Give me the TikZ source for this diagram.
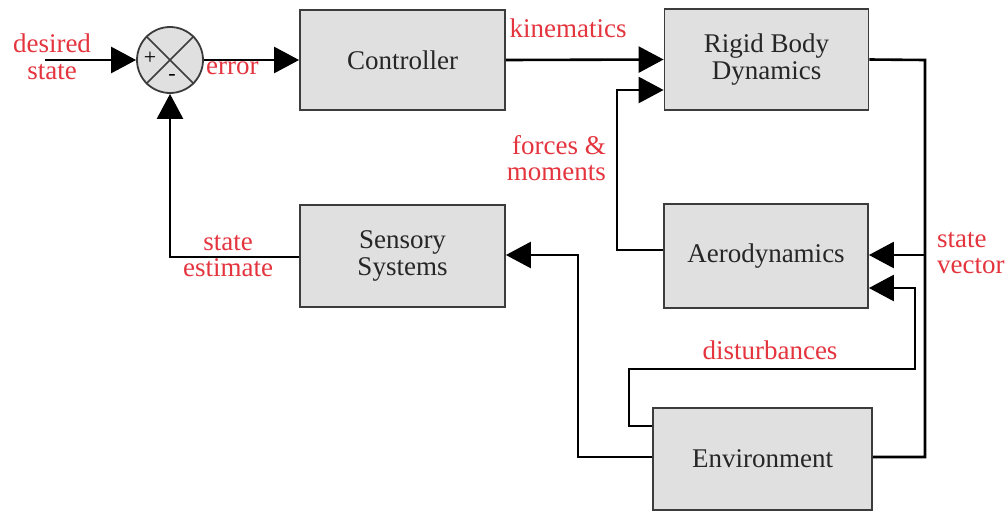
\documentclass[tikz,border=0pt]{standalone}
\usepackage{fontspec}
\setmainfont{Liberation Serif}
\usetikzlibrary{arrows.meta,calc}
\definecolor{lblred}{RGB}{228,52,62}
\definecolor{boxfill}{RGB}{224,224,224}
\definecolor{boxline}{RGB}{60,60,60}
\begin{document}
\begin{tikzpicture}[x=1pt,y=-1pt,
  blk/.style={draw=boxline,line width=1.8pt,fill=boxfill,rectangle,inner sep=0pt,
    text=black!85,font=\fontsize{27}{27}\selectfont,align=center},
  lbl/.style={text=lblred,font=\fontsize{27}{26.5}\selectfont,inner sep=0pt},
  conn/.style={line width=2.6pt,black},
  arr/.style={conn,-{Triangle[length=25pt,width=26pt]}},
]
\useasboundingbox (0,0) rectangle (1007,512);
% blocks
\node[draw=boxline,line width=1.8pt,fill=boxfill,circle,minimum size=66pt,inner sep=0pt] (sum) at (170,60) {};
\draw[line width=1.5pt,boxline] (sum.north west) -- (sum.south east);
\draw[line width=1.5pt,boxline] (sum.north east) -- (sum.south west);
\node[font=\fontsize{22}{22}\selectfont,inner sep=0pt] (plus) at (150,58) {+};
\node[font=\fontsize{22}{22}\selectfont,inner sep=0pt] (minus) at (172,77) {-};
\node[blk,minimum width=205pt,minimum height=100pt] (ctrl) at (402.5,60) {Controller};
\node[blk,minimum width=204pt,minimum height=101pt] (rbd) at (766.5,59.5) {Rigid Body\\Dynamics};
\node[blk,minimum width=204pt,minimum height=104pt] (aero) at (766,256) {Aerodynamics};
\node[blk,minimum width=205pt,minimum height=102pt] (sens) at (402.5,256) {Sensory\\Systems};
\node[blk,minimum width=219pt,minimum height=102pt] (env) at (762.5,459) {Environment};
% connectors
\coordinate (ds) at (45,60);
\draw[arr] (ds) -- (sum.west);
\draw[arr] (sum.east) -- (ctrl.west);
\draw[arr] (ctrl.east) -- (rbd.west);
\draw[arr] (aero.west |- {0,250}) -| (617,90) -- (rbd.west |- {0,90});
\draw[conn] (rbd.east) -- (925,60) |- (env.east |- {0,457});
\draw[arr] (925,255) -- (aero.east |- {0,255});
\draw[arr] (env.west |- {0,426}) -| (629,369) -| (915,288) -- (aero.east |- {0,288});
\draw[arr] (env.west |- {0,457}) -| (578,255) -- (sens.east |- {0,255});
\draw[arr] (sens.west |- {0,257}) -| (sum.south);
% labels
\node[lbl,align=center] (l1) at (52,57) {desired\\state};
\node[lbl,anchor=west] (l2) at (206,68) {error};
\node[lbl] (l3) at (568,28) {kinematics};
\node[lbl,align=right,anchor=east] (l4) at (606,158) {forces \&\\moments};
\node[lbl,align=center] (l5) at (228,256) {state\\estimate};
\node[lbl,align=left,anchor=west] (l6) at (937,253) {state\\vector};
\node[lbl] (l7) at (770,350) {disturbances};
\end{tikzpicture}
\end{document}
